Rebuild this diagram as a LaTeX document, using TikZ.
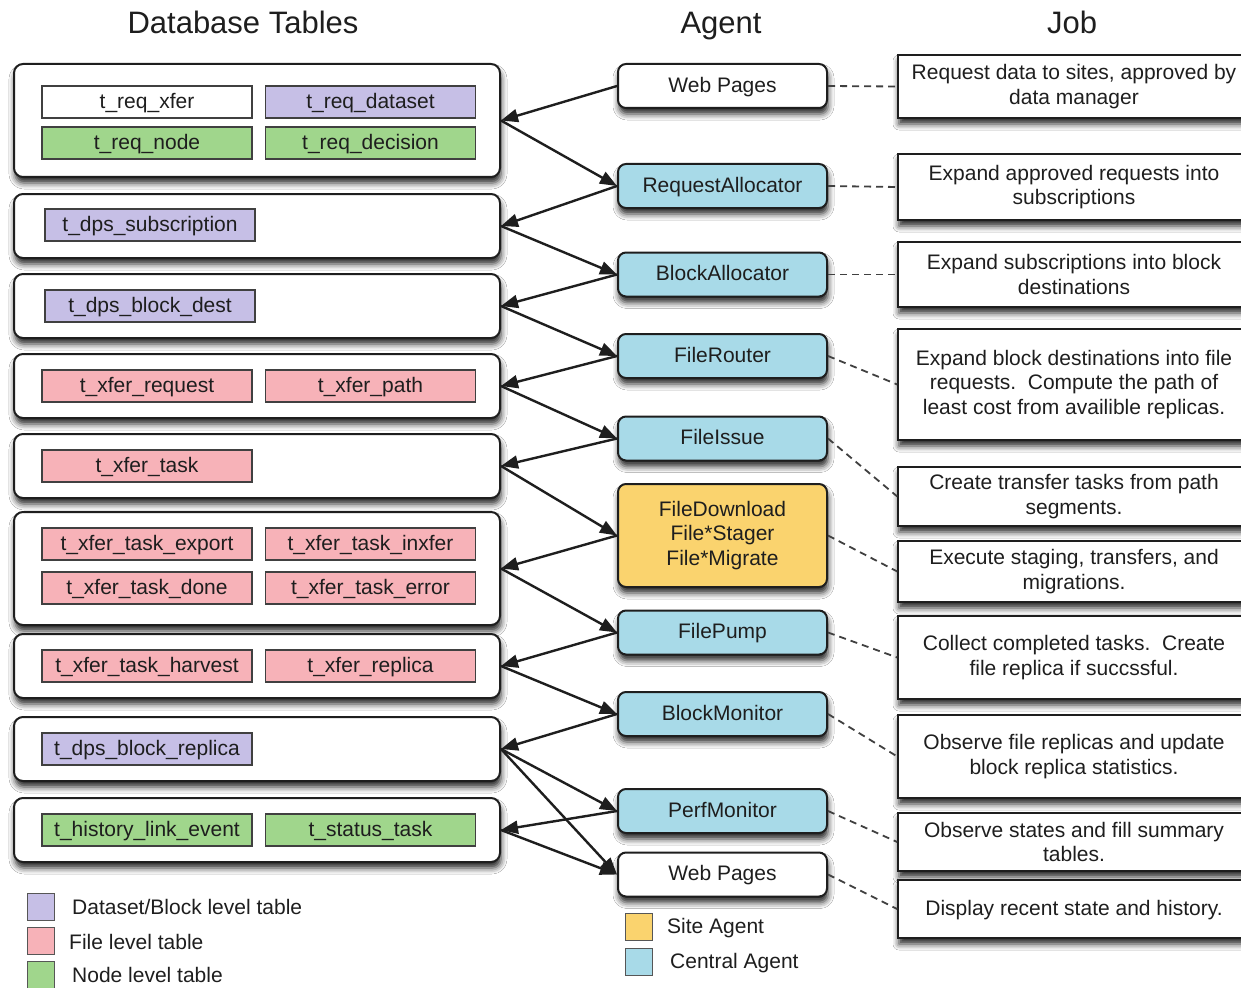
\documentclass[tikz,border=0pt]{standalone}
\usepackage{fontspec}
\setmainfont{Liberation Sans}
\usetikzlibrary{arrows.meta,shadows.blur}

\definecolor{dsblk}{RGB}{198,191,230}
\definecolor{filelv}{RGB}{247,178,184}
\definecolor{nodelv}{RGB}{160,214,140}
\definecolor{central}{RGB}{168,218,232}
\definecolor{site}{RGB}{250,211,110}
\definecolor{ink}{RGB}{30,30,30}

\tikzset{
  every node/.style={font=\fontsize{21}{24.5}\selectfont, text=ink},
  title/.style={font=\fontsize{31}{36}\selectfont, anchor=base},
  softshadow/.style={blur shadow={shadow xshift=1pt, shadow yshift=-6pt,
      shadow blur radius=6pt, shadow opacity=85}},
  group/.style={draw=ink, line width=2pt, fill=white, rounded corners=9pt,
      minimum width=486pt, inner sep=0pt, softshadow},
  oneline/.style={text height=17pt, text depth=4.5pt},
  tbl/.style={draw=ink!85, line width=1.2pt, minimum width=210pt,
      minimum height=32pt, inner sep=0pt, oneline},
  agent/.style={draw=ink, line width=2pt, rounded corners=8pt,
      minimum width=209pt, minimum height=44pt, inner sep=0pt, softshadow},
  job/.style={draw=ink, line width=1.5pt, fill=white, minimum width=352pt,
      inner sep=0pt, align=center, softshadow},
  arr/.style={line width=2.4pt, draw=ink, -{Triangle[length=17pt,width=13pt]}},
  dsh/.style={line width=1.8pt, draw=ink!85, dash pattern=on 7pt off 5pt},
  key/.style={draw=ink!75, line width=1pt, minimum width=27pt, minimum height=27pt, inner sep=0pt},
  keytext/.style={anchor=west, inner sep=0pt}
}

\begin{document}
\begin{tikzpicture}[x=1pt,y=-1pt]
\useasboundingbox (0,0) rectangle (1241,987);
\fill[white] (0,0) rectangle (1241,987);

% column headings (placed on their baselines)
\node[title] (hdb)  at (243,34)  {Database Tables};
\node[title] (hag)  at (721,34)  {Agent};
\node[title] (hjob) at (1072,34) {Job};

% groups of database tables
\node[group, minimum height=113pt] (g1) at (257,120.5) {};
\node[group, minimum height=64pt]  (g2) at (257,226)   {};
\node[group, minimum height=64pt]  (g3) at (257,306)   {};
\node[group, minimum height=64pt]  (g4) at (257,386)   {};
\node[group, minimum height=64pt]  (g5) at (257,466)   {};
\node[group, minimum height=113pt] (g6) at (257,568.5) {};
\node[group, minimum height=64pt]  (g7) at (257,666)   {};
\node[group, minimum height=64pt]  (g8) at (257,749)   {};
\node[group, minimum height=64pt]  (g9) at (257,830)   {};

% individual tables
\node[tbl, fill=white]  (reqxfer) at (147,102)   {t\_req\_xfer};
\node[tbl, fill=dsblk]  (reqds)   at (370.5,102) {t\_req\_dataset};
\node[tbl, fill=nodelv] (reqnode) at (147,143)   {t\_req\_node};
\node[tbl, fill=nodelv] (reqdec)  at (370.5,143) {t\_req\_decision};
\node[tbl, fill=dsblk]  (dpssub)  at (150,225)   {t\_dps\_subscription};
\node[tbl, fill=dsblk]  (dpsbd)   at (150,306)   {t\_dps\_block\_dest};
\node[tbl, fill=filelv] (xreq)    at (147,386)   {t\_xfer\_request};
\node[tbl, fill=filelv] (xpath)   at (370.5,386) {t\_xfer\_path};
\node[tbl, fill=filelv] (xtask)   at (147,466)   {t\_xfer\_task};
\node[tbl, fill=filelv] (xexp)    at (147,544)   {t\_xfer\_task\_export};
\node[tbl, fill=filelv] (xinx)    at (370.5,544) {t\_xfer\_task\_inxfer};
\node[tbl, fill=filelv] (xdone)   at (147,588)   {t\_xfer\_task\_done};
\node[tbl, fill=filelv] (xerr)    at (370.5,588) {t\_xfer\_task\_error};
\node[tbl, fill=filelv] (xharv)   at (147,666)   {t\_xfer\_task\_harvest};
\node[tbl, fill=filelv] (xrep)    at (370.5,666) {t\_xfer\_replica};
\node[tbl, fill=dsblk]  (dpsbr)   at (147,749)   {t\_dps\_block\_replica};
\node[tbl, fill=nodelv] (hist)    at (147,830)   {t\_history\_link\_event};
\node[tbl, fill=nodelv] (stat)    at (370.5,830) {t\_status\_task};

% agents
\node[agent, oneline, fill=white]   (web1)    at (722.5,86)    {Web Pages};
\node[agent, oneline, fill=central] (ralloc)  at (722.5,186)   {RequestAllocator};
\node[agent, oneline, fill=central] (balloc)  at (722.5,274.5) {BlockAllocator};
\node[agent, oneline, fill=central] (frouter) at (722.5,356)   {FileRouter};
\node[agent, oneline, fill=central] (fissue)  at (722.5,438.5) {FileIssue};
\node[agent, fill=site, minimum height=103pt, align=center]
                                    (fdown)   at (722.5,535.5) {FileDownload\\File*Stager\\File*Migrate};
\node[agent, oneline, fill=central] (fpump)   at (722.5,632.5) {FilePump};
\node[agent, oneline, fill=central] (bmon)    at (722.5,714)   {BlockMonitor};
\node[agent, oneline, fill=central] (pmon)    at (722.5,811)   {PerfMonitor};
\node[agent, oneline, fill=white]   (web2)    at (722.5,874.5) {Web Pages};

% jobs
\node[job, minimum height=63pt]  (j1)  at (1074,86.5)  {Request data to sites, approved by\\data manager};
\node[job, minimum height=66pt]  (j2)  at (1074,187)   {Expand approved requests into\\subscriptions};
\node[job, minimum height=65pt]  (j3)  at (1074,274.5) {Expand subscriptions into block\\destinations};
\node[job, minimum height=111pt] (j4)  at (1074,384.5) {Expand block destinations into file\\requests.\ \ Compute the path of\\least cost from availible replicas.};
\node[job, minimum height=59pt]  (j5)  at (1074,496.5) {Create transfer tasks from path\\segments.};
\node[job, minimum height=61pt]  (j6)  at (1074,571.5) {Execute staging, transfers, and\\migrations.};
\node[job, minimum height=83pt]  (j7)  at (1074,657.5) {Collect completed tasks.\ \ Create\\file replica if succssful.};
\node[job, minimum height=83pt]  (j8)  at (1074,756.5) {Observe file replicas and update\\block replica statistics.};
\node[job, minimum height=58pt]  (j9)  at (1074,842)   {Observe states and fill summary\\tables.};
\node[job, minimum height=58pt, oneline] (j10) at (1074,909) {Display recent state and history.};

% agent to job links
\draw[dsh] (web1.east)    -- (j1.west);
\draw[dsh] (ralloc.east)  -- (j2.west);
\draw[dsh] (balloc.east)  -- (j3.west);
\draw[dsh] (frouter.east) -- (j4.west);
\draw[dsh] (fissue.east)  -- (j5.west);
\draw[dsh] (fdown.east)   -- (j6.west);
\draw[dsh] (fpump.east)   -- (j7.west);
\draw[dsh] (bmon.east)    -- (j8.west);
\draw[dsh] (pmon.east)    -- (j9.west);
\draw[dsh] (web2.east)    -- (j10.west);

% data flow between tables and agents
\draw[arr] (web1.west)    -- (g1.east);
\draw[arr] (g1.east)      -- (ralloc.west);
\draw[arr] (ralloc.west)  -- (g2.east);
\draw[arr] (g2.east)      -- (balloc.west);
\draw[arr] (balloc.west)  -- (g3.east);
\draw[arr] (g3.east)      -- (frouter.west);
\draw[arr] (frouter.west) -- (g4.east);
\draw[arr] (g4.east)      -- (fissue.west);
\draw[arr] (fissue.west)  -- (g5.east);
\draw[arr] (g5.east)      -- (fdown.west);
\draw[arr] (fdown.west)   -- (g6.east);
\draw[arr] (g6.east)      -- (fpump.west);
\draw[arr] (fpump.west)   -- (g7.east);
\draw[arr] (g7.east)      -- (bmon.west);
\draw[arr] (bmon.west)    -- (g8.east);
\draw[arr] (g8.east)      -- (pmon.west);
\draw[arr] (g8.east)      -- (web2.west);
\draw[arr] (pmon.west)    -- (g9.east);
\draw[arr] (g9.east)      -- (web2.west);

% legend: table levels
\node[key, fill=dsblk]  (kds)   at (40.5,907) {};
\node[keytext] (kdst)   at (72,907)   {Dataset/Block level table};
\node[key, fill=filelv] (kfile) at (40.5,941) {};
\node[keytext] (kfilet) at (69,942)   {File level table};
\node[key, fill=nodelv] (knode) at (40.5,975) {};
\node[keytext] (knodet) at (72,975)   {Node level table};

% legend: agent kinds
\node[key, fill=site]    (ksite) at (638.5,927) {};
\node[keytext] (ksitet)  at (667,928) {Site Agent};
\node[key, fill=central] (kcen)  at (638.5,962) {};
\node[keytext] (kcent)   at (670,963) {Central Agent};
\end{tikzpicture}
\end{document}
